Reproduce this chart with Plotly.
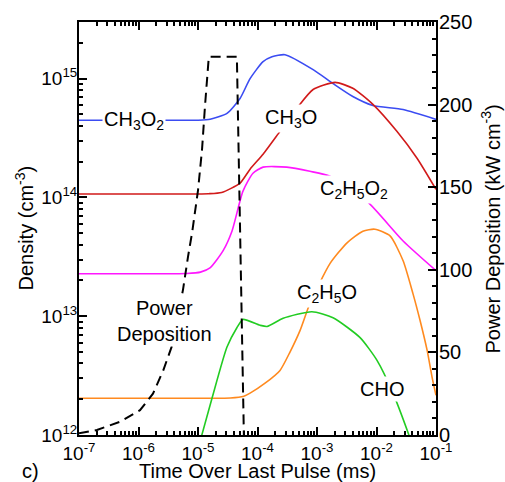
import plotly.graph_objects as go

# ---- data ----
ch3o2_t = [1e-7, 3e-6, 1.0e-5, 1.6e-5, 3.07e-5, 5.08e-5, 7.5e-5, 1.24e-4, 1.75e-4, 2.9e-4, 8.6e-4, 1.86e-3, 4.0e-3, 8.7e-3, 2.8e-2, 0.1]
ch3o2_n = [4.46e14, 4.46e14, 4.47e14, 4.55e14, 5.1e14, 6.8e14, 1.0e15, 1.39e15, 1.53e15, 1.59e15, 1.19e15, 9.1e14, 7.08e14, 5.95e14, 5.5e14, 4.54e14]

ch3o_t = [1e-7, 3e-6, 1.5e-5, 2.5e-5, 5.08e-5, 7.5e-5, 1.24e-4, 2.39e-4, 4.8e-4, 8.6e-4, 2.01e-3, 4.0e-3, 8.7e-3, 2.2e-2, 4.8e-2, 0.1]
ch3o_n = [1.07e14, 1.07e14, 1.075e14, 1.1e14, 1.32e14, 1.73e14, 2.31e14, 3.6e14, 5.8e14, 8.1e14, 9.3e14, 8.3e14, 6.07e14, 3.6e14, 2.14e14, 1.17e14]

c2h5o2_t = [1e-7, 2e-6, 6.5e-6, 1.1e-5, 1.59e-5, 2.63e-5, 3.72e-5, 5.7e-5, 8.4e-5, 1.24e-4, 3.1e-4, 7.6e-4, 1.65e-3, 6.9e-3, 2.8e-2, 0.1]
c2h5o2_n = [2.28e13, 2.28e13, 2.29e13, 2.35e13, 2.55e13, 3.55e13, 5.2e13, 1.13e14, 1.6e14, 1.8e14, 1.8e14, 1.66e14, 1.51e14, 9.3e13, 4.3e13, 2.42e13]

c2h5o_t = [1e-7, 5e-6, 3.5e-5, 5.9e-5, 7.5e-5, 1.34e-4, 2.39e-4, 3.5e-4, 5.2e-4, 7.6e-4, 1.65e-3, 3.2e-3, 5.9e-3, 9.4e-3, 1.69e-2, 2.8e-2, 4.1e-2, 5.4e-2, 7.1e-2, 8.6e-2, 0.1]
c2h5o_n = [2.04e12, 2.04e12, 2.05e12, 2.12e12, 2.25e12, 2.73e12, 3.5e12, 4.97e12, 7.6e12, 1.28e13, 2.77e13, 4.15e13, 5.2e13, 5.4e13, 4.74e13, 2.93e13, 1.55e13, 9.2e12, 5.15e12, 3.06e12, 2.16e12]

cho_t = [9.6e-6, 1.72e-5, 3.07e-5, 4.5e-5, 5.7e-5, 1.1e-4, 1.45e-4, 2.7e-4, 8.2e-4, 1.86e-3, 5.3e-3, 1.02e-2, 1.89e-2, 3.5e-2, 4.1e-2]
cho_n = [7.1e11, 2.04e12, 5.5e12, 8.0e12, 9.4e12, 8.4e12, 8.2e12, 9.6e12, 1.09e13, 9.7e12, 6.6e12, 4.25e12, 2.25e12, 1.0e12, 7.9e11]

power_t = [1e-7, 2.0e-7, 4.9e-7, 1.06e-6, 1.75e-6, 2.6e-6, 3.66e-6, 5.6e-6, 6.8e-6, 8.0e-6, 1.0e-5, 1.17e-5, 1.31e-5, 1.47e-5, 1.52e-5, 4.5e-5, 5.1e-5, 5.9e-5]
power_p = [1, 3, 8, 15, 25, 39, 54, 88, 108, 123, 148, 173, 199, 223, 229, 229, 122, 0]

x_tickvals = [1e-7, 1e-6, 1e-5, 1e-4, 1e-3, 1e-2, 1e-1]
x_ticktext = ["10<sup>-7</sup>", "10<sup>-6</sup>", "10<sup>-5</sup>", "10<sup>-4</sup>",
              "10<sup>-3</sup>", "10<sup>-2</sup>", "10<sup>-1</sup>"]
y_tickvals = [1e12, 1e13, 1e14, 1e15]
y_ticktext = ["10<sup>12</sup>", "10<sup>13</sup>", "10<sup>14</sup>", "10<sup>15</sup>"]

labels = ["CH<sub>3</sub>O<sub>2</sub>", "CH<sub>3</sub>O", "C<sub>2</sub>H<sub>5</sub>O<sub>2</sub>",
          "C<sub>2</sub>H<sub>5</sub>O", "CHO", "Power<br>Deposition"]
label_logx = [-6.076, -3.437, -2.378, -2.832, -1.908, -5.555]
label_logy = [14.649, 14.666, 14.07, 13.19, 12.39, 12.964]

x_title = "Time Over Last Pulse (ms)"
y_title = "Density (cm<sup>-3</sup>)"
y2_title = "Power Deposition (kW cm<sup>-3</sup>)"

FONT = "Liberation Sans, Arial, sans-serif"

fig = go.Figure()
series = [
    (ch3o2_t, ch3o2_n, "#3b4cf2", "CH3O2"),
    (ch3o_t, ch3o_n, "#d11a1a", "CH3O"),
    (c2h5o2_t, c2h5o2_n, "#ff17ff", "C2H5O2"),
    (c2h5o_t, c2h5o_n, "#ff8a1f", "C2H5O"),
    (cho_t, cho_n, "#22cc22", "CHO"),
]
for t, n, c, name in series:
    fig.add_trace(go.Scatter(x=t, y=n, mode="lines", name=name,
                             line=dict(color=c, width=1.6, shape="spline", smoothing=0.6)))

fig.add_trace(go.Scatter(x=power_t, y=power_p, mode="lines", yaxis="y2", name="Power",
                         line=dict(color="black", width=2, dash="10px,6px")))

for txt, lx, ly in zip(labels, label_logx, label_logy):
    fig.add_annotation(x=lx, y=ly, xref="x", yref="y", text=txt, showarrow=False,
                       font=dict(family=FONT, size=20, color="black"),
                       bgcolor="white", borderpad=1, xanchor="center", yanchor="middle")

txt_font = dict(family=FONT, size=20, color="black")
fig.add_annotation(x=-0.137, y=-0.086, xref="paper", yref="paper", text="c)", showarrow=False,
                   font=txt_font, xanchor="center", yanchor="middle")
fig.add_annotation(x=0.501, y=-0.086, xref="paper", yref="paper", text=x_title, showarrow=False,
                   font=txt_font, xanchor="center", yanchor="middle")
fig.add_annotation(x=-0.154, y=0.5, xref="paper", yref="paper", text=y_title, showarrow=False,
                   font=txt_font, xanchor="center", yanchor="middle", textangle=-90)
fig.add_annotation(x=1.154, y=0.5, xref="paper", yref="paper", text=y2_title, showarrow=False,
                   font=txt_font, xanchor="center", yanchor="middle", textangle=-90)

axis_common = dict(showline=True, linecolor="black", linewidth=2, ticks="inside",
                   tickcolor="black", tickwidth=1.5, ticklen=8, showgrid=False, zeroline=False,
                   automargin=False)

fig.update_layout(
    width=505, height=482,
    margin=dict(l=79, r=69, t=22, b=47, autoexpand=False),
    paper_bgcolor="white", plot_bgcolor="white",
    showlegend=False,
    font=dict(family=FONT, size=20, color="black"),
    xaxis=dict(type="log", range=[-7, -1], tickmode="array", tickvals=x_tickvals, ticktext=x_ticktext,
               mirror="ticks", ticklabelstandoff=0,
               minor=dict(ticks="inside", ticklen=4, tickcolor="black", dtick="D1", showgrid=False),
               tickfont=dict(size=19), **axis_common),
    yaxis=dict(type="log", range=[12, 15.477], tickmode="array", tickvals=y_tickvals, ticktext=y_ticktext,
               ticklabelstandoff=-4,
               minor=dict(ticks="inside", ticklen=4, tickcolor="black", dtick="D1", showgrid=False),
               tickfont=dict(size=19), **axis_common),
    yaxis2=dict(overlaying="y", side="right", range=[0, 250], dtick=50, ticklabelstandoff=-3,
                minor=dict(ticks="inside", ticklen=4, tickcolor="black", dtick=10, showgrid=False),
                tickfont=dict(size=20), **axis_common),
)

fig.write_html("out.html")
